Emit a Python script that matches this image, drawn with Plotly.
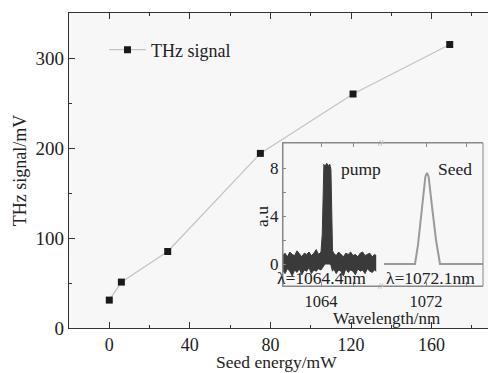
import plotly.graph_objects as go

# Main series
seed_energy = [0, 6, 29, 75, 121, 169]
thz_signal = [31, 51, 85, 194, 260, 315]
x_ticks = [0, 40, 80, 120, 160]
y_ticks = [0, 100, 200, 300]

# Inset: pump spectrum (upper / lower envelope of noisy trace)
pump_x = [1061.6, 1061.75, 1061.9, 1062.05, 1062.2, 1062.35, 1062.5, 1062.65, 1062.8, 1062.95,
          1063.1, 1063.25, 1063.4, 1063.55, 1063.7, 1063.85, 1064.0, 1064.08, 1064.13, 1064.18,
          1064.25, 1064.35, 1064.45, 1064.55, 1064.62, 1064.67, 1064.72, 1064.8, 1064.95, 1065.1,
          1065.25, 1065.4, 1065.55, 1065.7, 1065.85, 1066.0, 1066.15, 1066.3, 1066.45, 1066.6,
          1066.75, 1066.9, 1067.05, 1067.2, 1067.35, 1067.45]
pump_upper = [0.7, 0.9, 0.6, 1.0, 0.8, 0.7, 1.1, 0.8, 0.6, 0.9,
              0.8, 1.0, 0.7, 0.9, 1.2, 0.8, 1.0, 2.5, 7.6, 8.3,
              8.1, 8.4, 8.2, 8.3, 7.9, 3.0, 1.1, 0.9, 0.7, 1.0,
              0.8, 0.6, 0.9, 0.8, 1.0, 0.7, 0.8, 0.6, 0.9, 1.0,
              0.7, 0.8, 0.9, 0.6, 0.8, 0.7]
pump_lower = [-0.5, -0.8, -0.4, -0.6, -1.0, -0.5, -0.7, -0.4, -0.9, -0.5,
              -0.6, -0.3, -0.8, -0.5, -0.6, -0.4, -0.5, -0.3, -0.2, -0.1,
              0.0, 0.0, 0.0, 0.0, -0.1, -0.3, -0.6, -0.4, -0.8, -0.5,
              -0.6, -1.0, -0.4, -0.7, -0.5, -0.6, -0.9, -0.4, -0.6, -0.5,
              -0.8, -0.4, -0.6, -0.7, -0.5, -0.6]
# Inset: seed spectrum
seed_x = [1069.9, 1071.45, 1071.6, 1071.8, 1071.97, 1072.05, 1072.13, 1072.3, 1072.5, 1072.7, 1074.85]
seed_y = [0, 0, 1.6, 4.6, 7.3, 7.6, 7.3, 4.8, 2.0, 0, 0]

FONT = "Liberation Serif"
TXT = "#222"
AX = "#333"
INS = "#888"

fig = go.Figure()

fig.add_trace(go.Scatter(
    x=seed_energy, y=thz_signal, mode="lines+markers", name="THz signal",
    line=dict(color="#c4c4c4", width=1.3),
    marker=dict(symbol="square", size=7, color="#1a1a1a"),
    showlegend=True))

fig.add_trace(go.Scatter(x=pump_x, y=pump_upper, mode="lines", xaxis="x2", yaxis="y2",
                         line=dict(color="#3a3a3a", width=1), showlegend=False))
fig.add_trace(go.Scatter(x=pump_x, y=pump_lower, mode="lines", xaxis="x2", yaxis="y2",
                         line=dict(color="#3a3a3a", width=1), fill="tonexty",
                         fillcolor="#3a3a3a", showlegend=False))
fig.add_trace(go.Scatter(x=seed_x, y=seed_y, mode="lines", xaxis="x3", yaxis="y3",
                         line=dict(color="#9a9a9a", width=2), showlegend=False))

def px2paper_x(px):
    return (px - 69) / 419.0

def px2paper_y(py):
    return (328 - py) / 315.0

ix0, ix1 = px2paper_x(283), px2paper_x(381)
jx0, jx1 = px2paper_x(383), px2paper_x(483)
iy0, iy1 = px2paper_y(286), px2paper_y(143)

def ann(text, x, y, xref="paper", yref="paper", size=18, color=TXT, angle=0):
    return dict(text=text, x=x, y=y, xref=xref, yref=yref, showarrow=False,
                xanchor="center", yanchor="middle", textangle=angle,
                font=dict(size=size, color=color))

fig.update_layout(
    width=488, height=373,
    margin=dict(l=69, r=0, t=13, b=45),
    paper_bgcolor="white", plot_bgcolor="#f7f7f7",
    font=dict(family=FONT, size=18, color=TXT),
    xaxis=dict(domain=[0, 1], range=[-20, 188], tickmode="linear", tick0=0, dtick=40,
               ticks="inside", ticklen=6, tickcolor=AX, tickwidth=1.2,
               tickfont=dict(size=18), automargin=False,
               minor=dict(ticks="inside", ticklen=3, tick0=0, dtick=20, tickcolor=AX),
               showline=True, linecolor=AX, linewidth=1.3, mirror="ticks",
               showgrid=False, zeroline=False),
    yaxis=dict(domain=[0, 1], range=[0, 350], tickmode="linear", tick0=0, dtick=100,
               ticks="inside", ticklen=6, tickcolor=AX, tickwidth=1.2,
               tickfont=dict(size=19), automargin=False,
               minor=dict(ticks="inside", ticklen=3, tick0=0, dtick=50, tickcolor=AX),
               showline=True, linecolor=AX, linewidth=1.3,
               showgrid=False, zeroline=False,
               title=dict(text="THz signal/mV", standoff=4, font=dict(size=18))),
    xaxis2=dict(domain=[ix0, ix1], anchor="y2", range=[1061.625, 1067.75],
                tickvals=[1064, 1066], ticktext=["1064", ""], tickfont=dict(size=16.5),
                ticks="inside", ticklen=4, tickcolor=INS, automargin=False,
                showline=True, linecolor=INS, linewidth=1, mirror="ticks",
                showgrid=False, zeroline=False),
    yaxis2=dict(domain=[iy0, iy1], anchor="x2", range=[-1.833, 10.083],
                tickvals=[0, 2, 4, 6, 8], ticktext=["0", "", "4", "", "8"],
                tickfont=dict(size=17), automargin=False,
                ticks="inside", ticklen=3, tickcolor=INS,
                showline=True, linecolor=INS, linewidth=1,
                showgrid=False, zeroline=False),
    xaxis3=dict(domain=[jx0, jx1], anchor="y3", range=[1069.85, 1074.85],
                tickvals=[1072, 1074], ticktext=["1072", ""], tickfont=dict(size=16.5),
                ticks="inside", ticklen=4, tickcolor=INS, automargin=False,
                showline=True, linecolor=INS, linewidth=1, mirror="ticks",
                showgrid=False, zeroline=False),
    yaxis3=dict(domain=[iy0, iy1], anchor="x3", range=[-1.833, 10.083], visible=False),
    legend=dict(x=px2paper_x(104), y=px2paper_y(50), xanchor="left", yanchor="middle",
                bgcolor="rgba(0,0,0,0)", itemwidth=37, font=dict(size=18)),
    shapes=[dict(type="rect", xref="paper", yref="paper", x0=ix0, x1=jx1, y0=iy0, y1=iy1,
                 line=dict(color=INS, width=1), layer="above")],
    annotations=[
        ann("Seed energy/mW", px2paper_x(276), px2paper_y(362), size=17.5),
        ann("pump", 1066.5, 7.9, "x2", "y2", size=17.5),
        ann("Seed", 1073.45, 7.9, "x3", "y3", size=17.5),
        ann("λ=1064.4nm", 1064.06, -1.15, "x2", "y2", size=17.5),
        ann("λ=1072.1nm", 1072.2, -1.15, "x3", "y3", size=17.5),
        ann("Wavelength/nm", px2paper_x(386), px2paper_y(318), size=17),
        ann("a.u", px2paper_x(262), px2paper_y(217), size=17.5, angle=-90),
        ann("//", px2paper_x(381), iy1, size=9, color=INS),
        ann("//", px2paper_x(381), iy0, size=9, color=INS),
    ],
)

fig.write_html("out.html")
